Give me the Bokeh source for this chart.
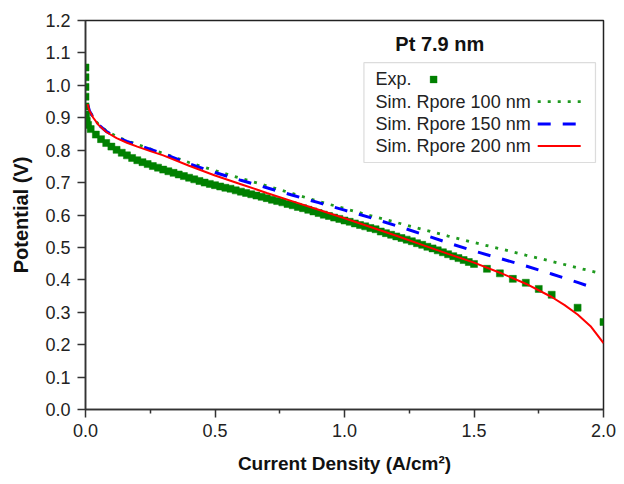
from bokeh.plotting import figure
from bokeh.models import (FixedTicker, Label, BoxAnnotation, Arrow,
                          CustomJSTickFormatter)
from bokeh.embed import file_html
from bokeh.resources import INLINE

# ---------------- data ----------------
exp_x = [0.0, 0.0, 0.0, 0.0, 0.0, 0.002, 0.005, 0.01,
         0.02, 0.04, 0.06, 0.08, 0.10, 0.12, 0.14, 0.16, 0.18, 0.20,
         0.22, 0.24, 0.26, 0.28, 0.30, 0.32, 0.34, 0.36, 0.38, 0.40,
         0.42, 0.44, 0.46, 0.48, 0.50, 0.52, 0.54, 0.56, 0.58, 0.60,
         0.62, 0.64, 0.66, 0.68, 0.70, 0.72, 0.74, 0.76, 0.78, 0.80,
         0.82, 0.84, 0.86, 0.88, 0.90, 0.92, 0.94, 0.96, 0.98, 1.00,
         1.02, 1.04, 1.06, 1.08, 1.10, 1.12, 1.14, 1.16, 1.18, 1.20,
         1.22, 1.24, 1.26, 1.28, 1.30, 1.32, 1.34, 1.36, 1.38, 1.40,
         1.42, 1.44, 1.46, 1.48, 1.50,
         1.55, 1.60, 1.65, 1.70, 1.75, 1.80, 1.90, 2.00]
exp_y = [1.055, 1.025, 0.995, 0.965, 0.935, 0.910, 0.890, 0.878,
         0.865, 0.848, 0.834, 0.822, 0.811, 0.801, 0.792, 0.784, 0.776, 0.769,
         0.763, 0.757, 0.751, 0.746, 0.740, 0.735, 0.730, 0.725, 0.720, 0.715,
         0.710, 0.705, 0.700, 0.696, 0.692, 0.688, 0.684, 0.681, 0.676, 0.672,
         0.668, 0.664, 0.660, 0.656, 0.652, 0.647, 0.643, 0.639, 0.634, 0.630,
         0.625, 0.621, 0.616, 0.611, 0.606, 0.601, 0.597, 0.592, 0.588, 0.583,
         0.579, 0.574, 0.569, 0.565, 0.560, 0.556, 0.549, 0.544, 0.539, 0.534,
         0.529, 0.524, 0.519, 0.513, 0.508, 0.502, 0.497, 0.491, 0.485, 0.479,
         0.473, 0.467, 0.461, 0.455, 0.449,
         0.434, 0.420, 0.403, 0.391, 0.372, 0.354, 0.314, 0.270]

sim100_x = [0.008, 0.015, 0.03, 0.05, 0.08, 0.12, 0.16, 0.20, 0.30, 0.40,
            0.50, 0.60, 0.70, 0.80, 0.90, 1.00, 1.10, 1.20, 1.30, 1.40,
            1.50, 1.60, 1.70, 1.80, 1.90, 1.99]
sim100_y = [0.942, 0.922, 0.900, 0.880, 0.860, 0.842, 0.829, 0.818, 0.790, 0.762,
            0.737, 0.713, 0.690, 0.666, 0.642, 0.620, 0.598, 0.577, 0.556, 0.535,
            0.515, 0.496, 0.476, 0.457, 0.437, 0.420]

sim150_x = [0.008, 0.015, 0.03, 0.05, 0.08, 0.12, 0.16, 0.20, 0.30, 0.40,
            0.50, 0.60, 0.70, 0.80, 0.90, 1.00, 1.10, 1.20, 1.30, 1.40,
            1.50, 1.60, 1.70, 1.80, 1.90, 1.96]
sim150_y = [0.942, 0.922, 0.900, 0.879, 0.858, 0.840, 0.827, 0.816, 0.789, 0.758,
            0.731, 0.707, 0.684, 0.661, 0.638, 0.615, 0.592, 0.567, 0.541, 0.514,
            0.489, 0.466, 0.443, 0.418, 0.392, 0.376]

sim200_x = [0.008, 0.015, 0.03, 0.05, 0.08, 0.12, 0.16, 0.20, 0.25, 0.30,
            0.40, 0.50, 0.60, 0.70, 0.80, 0.90, 1.00, 1.10, 1.20, 1.30,
            1.40, 1.50, 1.60, 1.70, 1.80, 1.85, 1.90, 1.95, 2.00]
sim200_y = [0.942, 0.922, 0.900, 0.878, 0.856, 0.837, 0.823, 0.811, 0.797, 0.784,
            0.752, 0.722, 0.695, 0.668, 0.642, 0.616, 0.590, 0.563, 0.536, 0.508,
            0.480, 0.453, 0.422, 0.388, 0.347, 0.322, 0.293, 0.257, 0.205]

x_ticks = [0.0, 0.5, 1.0, 1.5, 2.0]
x_minor = [0.25, 0.75, 1.25, 1.75]
y_ticks = [0.0, 0.1, 0.2, 0.3, 0.4, 0.5, 0.6, 0.7, 0.8, 0.9, 1.0, 1.1, 1.2]

legend_labels = ["Exp.", "Sim. Rpore 100 nm", "Sim. Rpore 150 nm", "Sim. Rpore 200 nm"]
title_text = "Pt 7.9 nm"

# ---------------- styles ----------------
FONT = "Liberation Sans"
C_EXP = "#008000"
C_100 = "#1f9a1f"
C_150 = "#0000ff"
C_200 = "#ff0000"

p = figure(width=616, height=476, x_range=(0, 2), y_range=(0, 1.2),
           output_backend="svg", toolbar_location=None,
           min_border_left=85, min_border_right=13, min_border_top=20,
           min_border_bottom=65)
p.grid.visible = False
p.outline_line_color = "#222222"
p.outline_line_width = 1.5
p.background_fill_color = "white"
p.border_fill_color = "white"

p.line(sim100_x, sim100_y, line_color=C_100, line_width=2.8, line_dash="3 7")
p.line(sim150_x, sim150_y, line_color=C_150, line_width=3, line_dash="13 12")
p.scatter(exp_x, exp_y, marker="square", size=7, fill_color=C_EXP,
          line_color=C_EXP, line_width=0.5)
p.line(sim200_x, sim200_y, line_color=C_200, line_width=2)

for ax in (p.xaxis[0], p.yaxis[0]):
    ax.axis_line_color = "#333333"
    ax.axis_line_width = 1.5
    ax.major_tick_line_color = "#333333"
    ax.major_tick_line_width = 1.5
    ax.minor_tick_line_color = "#333333"
    ax.minor_tick_line_width = 1.5
    ax.major_tick_in = 0
    ax.major_tick_out = 8
    ax.minor_tick_in = 0
    ax.minor_tick_out = 4
    ax.major_label_text_font = FONT
    ax.major_label_text_font_size = "18px"
    ax.major_label_text_color = "#222222"
    ax.axis_label_text_font = FONT
    ax.axis_label_text_font_style = "bold"
    ax.axis_label_text_color = "#111111"
    ax.formatter = CustomJSTickFormatter(code="return tick.toFixed(1);")

p.xaxis.ticker = FixedTicker(ticks=x_ticks, minor_ticks=x_minor)
p.yaxis.ticker = FixedTicker(ticks=y_ticks)
p.xaxis.axis_label = "Current Density (A/cm²)"
p.yaxis.axis_label = "Potential (V)"
p.xaxis.axis_label_text_font_size = "19px"
p.yaxis.axis_label_text_font_size = "20px"
p.xaxis.major_label_standoff = 6
p.yaxis.major_label_standoff = 7
p.xaxis.axis_label_standoff = 13
p.yaxis.axis_label_standoff = 10

# ---------------- legend (annotations) ----------------
LEG_L, LEG_R, LEG_B, LEG_T = 1.075, 1.969, 0.762, 1.070
ROW_Y = [1.018, 0.950, 0.881, 0.813]
TXT_X = 1.120
SAMPLE_X0, SAMPLE_X1 = 1.746, 1.912
EXP_MARK_X = 1.344
SQ_W, SQ_H = 7 / 259.0, 7 / 325.0

p.add_layout(BoxAnnotation(left=LEG_L, right=LEG_R, bottom=LEG_B, top=LEG_T,
                           fill_color="white", fill_alpha=1.0,
                           line_color="#8a8a8a", line_width=1.2, level="annotation"))
p.add_layout(Label(x=1.368, y=1.126, text=title_text, text_font=FONT,
                   text_font_size="20px", text_font_style="bold",
                   text_color="#111111", text_align="center",
                   text_baseline="middle"))
for lab, yy in zip(legend_labels, ROW_Y):
    p.add_layout(Label(x=TXT_X, y=yy, text=lab, text_font=FONT,
                       text_font_size="18px", text_color="#222222",
                       text_align="left", text_baseline="middle"))
p.add_layout(BoxAnnotation(left=EXP_MARK_X - SQ_W / 2, right=EXP_MARK_X + SQ_W / 2,
                           bottom=ROW_Y[0] - SQ_H / 2, top=ROW_Y[0] + SQ_H / 2,
                           fill_color=C_EXP, fill_alpha=1.0, line_color=C_EXP,
                           level="annotation"))
samples = [(C_100, 2.8, "3 7"), (C_150, 3, "13 12"), (C_200, 2, "solid")]
for (col, lw, dash), yy in zip(samples, ROW_Y[1:]):
    p.add_layout(Arrow(x_start=SAMPLE_X0, y_start=yy, x_end=SAMPLE_X1, y_end=yy,
                       end=None, line_color=col, line_width=lw, line_dash=dash))

open("out.html", "w").write(file_html(p, INLINE))
